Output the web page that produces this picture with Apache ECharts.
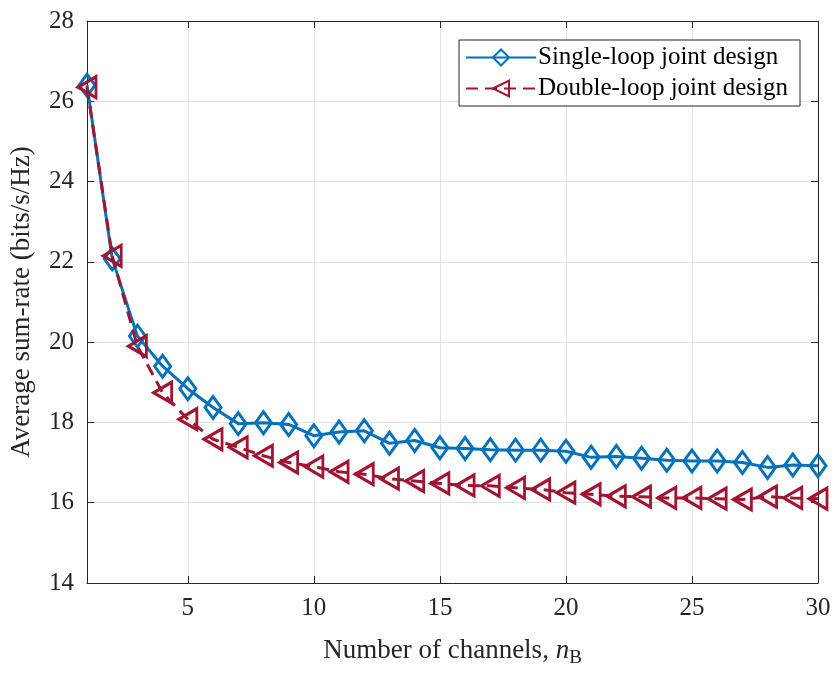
<!DOCTYPE html>
<html><head><meta charset="utf-8">
<script src="https://cdn.jsdelivr.net/npm/echarts@6/dist/echarts.min.js"></script>
<style>html,body{margin:0;padding:0;background:#fff}#c{width:835px;height:673px}</style>
</head><body><div id="c"></div>
<script>
const xs = [1,2,3,4,5,6,7,8,9,10,11,12,13,14,15,16,17,18,19,20,21,22,23,24,25,26,27,28,29,30];
const singleLoop = [26.4,22.08,20.15,19.4,18.84,18.37,17.97,17.99,17.95,17.67,17.76,17.79,17.48,17.55,17.37,17.35,17.32,17.31,17.31,17.28,17.13,17.15,17.11,17.06,17.04,17.04,17.0,16.88,16.94,16.92];
const doubleLoop = [26.35,22.15,19.9,18.74,18.08,17.58,17.38,17.17,17.0,16.9,16.77,16.71,16.6,16.54,16.48,16.43,16.42,16.37,16.33,16.25,16.21,16.16,16.15,16.12,16.12,16.1,16.08,16.15,16.12,16.1];
const xTicks = [5,10,15,20,25,30];
const seriesNames = ['Single-loop joint design','Double-loop joint design'];

const font = '"Liberation Serif","Times New Roman",serif';
const blue = '#0072BD', red = '#A2142F';
const chart = echarts.init(document.getElementById('c'));
const axisLine = {show:true, onZero:false, lineStyle:{color:'#262626', width:1}};
chart.setOption({
  animation:false,
  backgroundColor:'#fff',
  grid:{left:86, right:17, top:21, bottom:88},
  legend:{
    right:35, top:40, orient:'vertical',
    backgroundColor:'#fff', borderColor:'#262626', borderWidth:1,
    padding:[5,12,5,6], itemGap:6, itemWidth:70, itemHeight:20,
    textStyle:{fontFamily:font, fontSize:25, color:'#000', padding:[0,0,0,-3]},
    data:seriesNames
  },
  xAxis:[{
    type:'value', min:1, max:30, position:'bottom',
    axisLine:axisLine,
    axisTick:{show:true, inside:true, length:7, customValues:xTicks, lineStyle:{color:'#262626'}},
    axisLabel:{customValues:xTicks, fontFamily:font, fontSize:25, color:'#262626', margin:13},
    splitLine:{show:true, lineStyle:{color:'#e3e3e3', width:1}},
    name:'{a|Number of channels, }{i|n}{s|B}',
    nameLocation:'middle', nameGap:50,
    nameTextStyle:{rich:{
      a:{fontFamily:font, fontSize:27, color:'#262626'},
      i:{fontFamily:font, fontSize:27, fontStyle:'italic', color:'#262626'},
      s:{fontFamily:font, fontSize:19, color:'#262626', verticalAlign:'bottom', padding:[16,0,0,0]}
    }}
  },{
    type:'value', min:1, max:30, position:'top',
    axisLine:axisLine,
    axisTick:{show:true, inside:true, length:7, customValues:xTicks, lineStyle:{color:'#262626'}},
    axisLabel:{show:false}, splitLine:{show:false}
  }],
  yAxis:[{
    type:'value', min:14, max:28, interval:2, position:'left',
    axisLine:axisLine,
    axisTick:{show:true, inside:true, length:7, lineStyle:{color:'#262626'}},
    axisLabel:{fontFamily:font, fontSize:25, color:'#262626', margin:13},
    splitLine:{show:true, lineStyle:{color:'#e3e3e3', width:1}},
    name:'Average sum-rate (bits/s/Hz)', nameLocation:'middle', nameGap:52,
    nameTextStyle:{fontFamily:font, fontSize:27, color:'#262626'}
  },{
    type:'value', min:14, max:28, interval:2, position:'right',
    axisLine:axisLine,
    axisTick:{show:true, inside:true, length:7, lineStyle:{color:'#262626'}},
    axisLabel:{show:false}, splitLine:{show:false}
  }],
  series:[{
    name:seriesNames[0], type:'line', xAxisIndex:0, yAxisIndex:0,
    data:xs.map((x,i)=>[x,singleLoop[i]]),
    color:blue,
    symbol:'diamond', symbolSize:[16,22],
    lineStyle:{color:blue, width:3},
    itemStyle:{color:'#ffffff00', borderColor:blue, borderWidth:3},
    z:3
  },{
    name:seriesNames[1], type:'line', xAxisIndex:0, yAxisIndex:0,
    data:xs.map((x,i)=>[x,doubleLoop[i]]),
    color:red,
    symbol:'triangle', symbolSize:[21,18], symbolRotate:90,
    lineStyle:{color:red, width:3, type:[12,7]},
    itemStyle:{color:'#ffffff00', borderColor:red, borderWidth:3},
    z:4
  }]
});
</script></body></html>
